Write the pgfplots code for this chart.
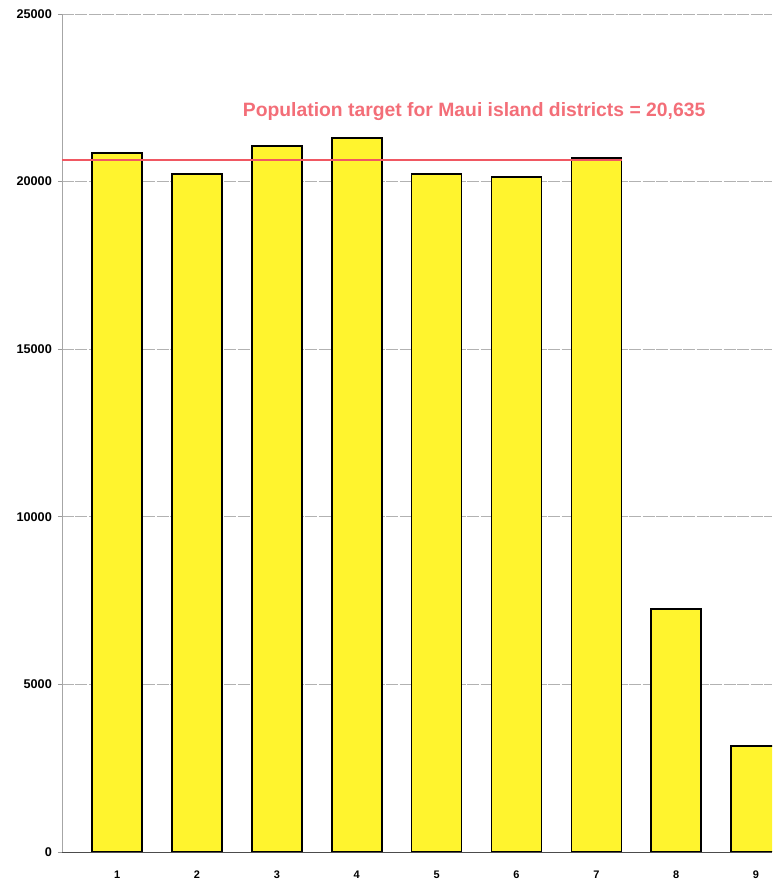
\documentclass[border=0pt]{standalone}
\usepackage{pgfplots}
\pgfplotsset{compat=1.18}
\usepackage{fontspec}
\setmainfont{Liberation Sans}
\definecolor{baryellow}{RGB}{255,244,46}
\definecolor{targetred}{RGB}{240,88,98}
\definecolor{labelred}{RGB}{243,110,120}
\begin{document}
\begin{tikzpicture}
\begin{axis}[
  scale only axis, width=710bp, height=838bp,
  xmin=0.31, xmax=9.2, ymin=0, ymax=25000,
  axis x line*=bottom, axis y line*=left,
  x axis line style={black!70, line width=0.8bp, -},
  y axis line style={black!35, line width=0.8bp, -},
  ytick={0,5000,...,25000},
  xtick={1,...,9},
  scaled y ticks=false,
  /pgf/number format/.cd, 1000 sep={}, assume math mode=true, /pgfplots/.cd,
  ymajorgrids,
  grid style={black!30, line width=0.7bp, dash pattern=on 12bp off 1.5bp},
  tick align=outside,
  major tick length=4bp,
  ytick style={black!40, line width=0.7bp},
  xtick style={draw=none},
  yticklabel style={font=\bfseries\fontsize{12.7}{12.7}\selectfont, anchor=east, inner sep=0pt, xshift=-6bp},
  xticklabel style={font=\bfseries\fontsize{11}{11}\selectfont, anchor=north, inner sep=0pt, yshift=-15bp},
  clip=true,
]
% district populations
\addplot[ybar, bar width=50bp, fill=baryellow, draw=black, line width=1.6bp]
  coordinates {(1,20850) (2,20230) (3,21060) (4,21300) (5,20230)
               (6,20140) (7,20700) (8,7250) (9,3160)};
% target population per district
\addplot[targetred, line width=2.2bp] coordinates {(0.31,20635) (7.32,20635)};
\node[font=\bfseries\fontsize{19.4}{19.4}\selectfont, text=labelred]
  at (axis cs:5.47,22100) {Population target for Maui island districts = 20,635};
\end{axis}
\pgfresetboundingbox
\path[use as bounding box] ([xshift=-62bp,yshift=-28bp]current axis.south west)
  rectangle ([yshift=14bp]current axis.north east);
\end{tikzpicture}
\end{document}
